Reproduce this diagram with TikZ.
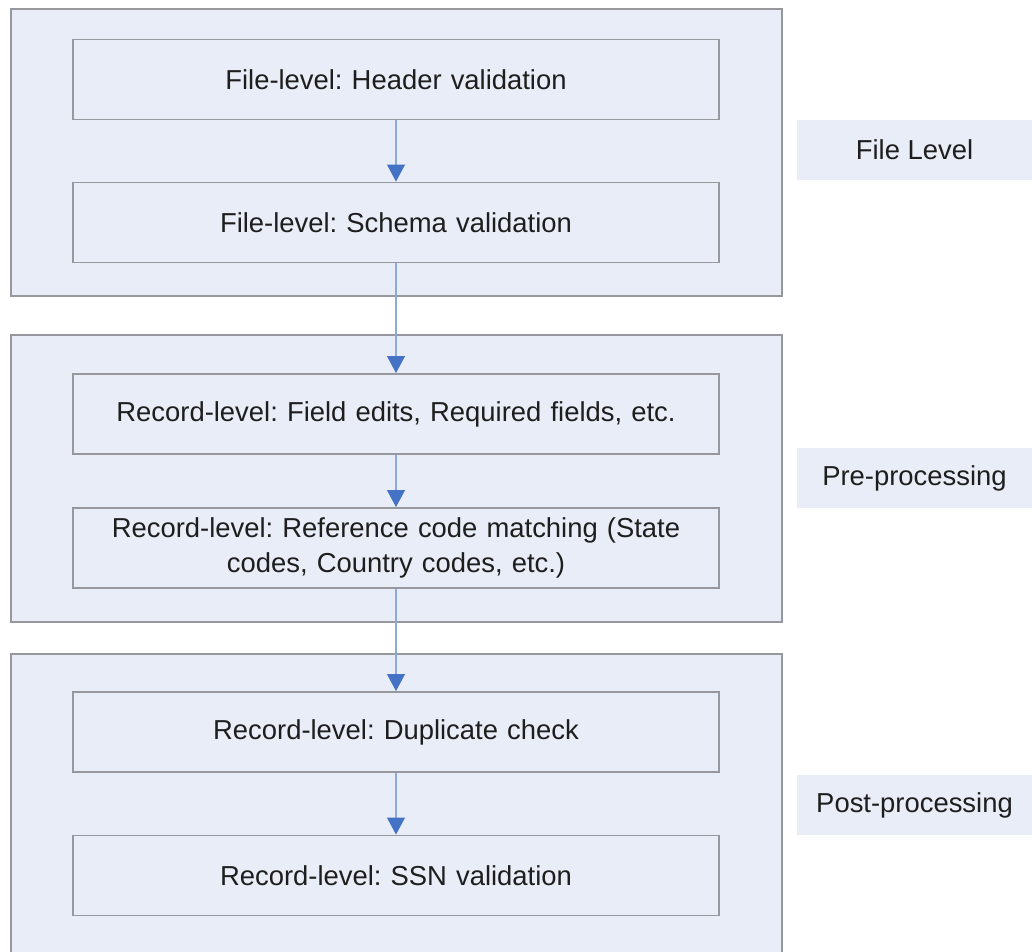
\documentclass[tikz,border=0pt]{standalone}
\usepackage{fontspec}
\setmainfont{Liberation Sans}
\usetikzlibrary{arrows.meta,positioning}
\frenchspacing
\definecolor{PaleBlue}{RGB}{232,237,247}
\definecolor{FrameGray}{RGB}{150,152,158}
\definecolor{LineBlue}{RGB}{140,170,215}
\definecolor{HeadBlue}{RGB}{68,114,196}
\definecolor{InkGray}{RGB}{30,30,30}
\tikzset{
  stage/.style={draw=FrameGray,fill=PaleBlue,line width=1pt,
    minimum width=15.42cm,minimum height=5.74cm,anchor=north west,inner sep=0pt},
  checkbox/.style={draw=FrameGray,fill=PaleBlue,line width=1.1pt,
    minimum width=12.92cm,minimum height=1.6cm,text width=12.4cm,align=center,
    text=InkGray,font=\fontsize{15.6}{19.5}\selectfont},
  tag/.style={fill=PaleBlue,minimum width=4.7cm,minimum height=1.2cm,
    text=InkGray,font=\fontsize{15.6}{19.5}\selectfont},
  flow/.style={-{Triangle[width=0.36cm,length=0.34cm,color=HeadBlue]},
    LineBlue,line width=0.6pt}
}
\begin{document}
\begin{tikzpicture}
  \useasboundingbox (0,0) rectangle (20.64,-19.02);
  % stage frames
  \node[stage] (fileGrp) at (0.2,-0.16) {};
  \node[stage] (preGrp) at (0.2,-6.68) {};
  \node[stage,minimum height=6.3cm] (postGrp) at (0.2,-13.06) {};
  % checks
  \node[checkbox] (header) at (7.92,-1.59) {File-level: Header validation};
  \node[checkbox] (schema) at (7.92,-4.45) {File-level: Schema validation};
  \node[checkbox] (fields) at (7.92,-8.28) {Record-level: Field edits, Required fields, etc.};
  \node[checkbox] (refcode) at (7.92,-10.96) {Record-level: Reference code matching (State\\codes, Country codes, etc.)};
  \node[checkbox] (dupes) at (7.92,-14.64) {Record-level: Duplicate check};
  \node[checkbox] (ssn) at (7.92,-17.51) {Record-level: SSN validation};
  % stage names
  \node[tag] (fileTag) at (18.29,-3.0) {File Level};
  \node[tag] (preTag) at (18.29,-9.56) {Pre-processing};
  \node[tag] (postTag) at (18.29,-16.1) {Post-processing};
  % flow
  \draw[flow] (header) -- (schema);
  \draw[flow] (schema) -- (fields);
  \draw[flow] (fields) -- (refcode);
  \draw[flow] (refcode) -- (dupes);
  \draw[flow] (dupes) -- (ssn);
\end{tikzpicture}
\end{document}
